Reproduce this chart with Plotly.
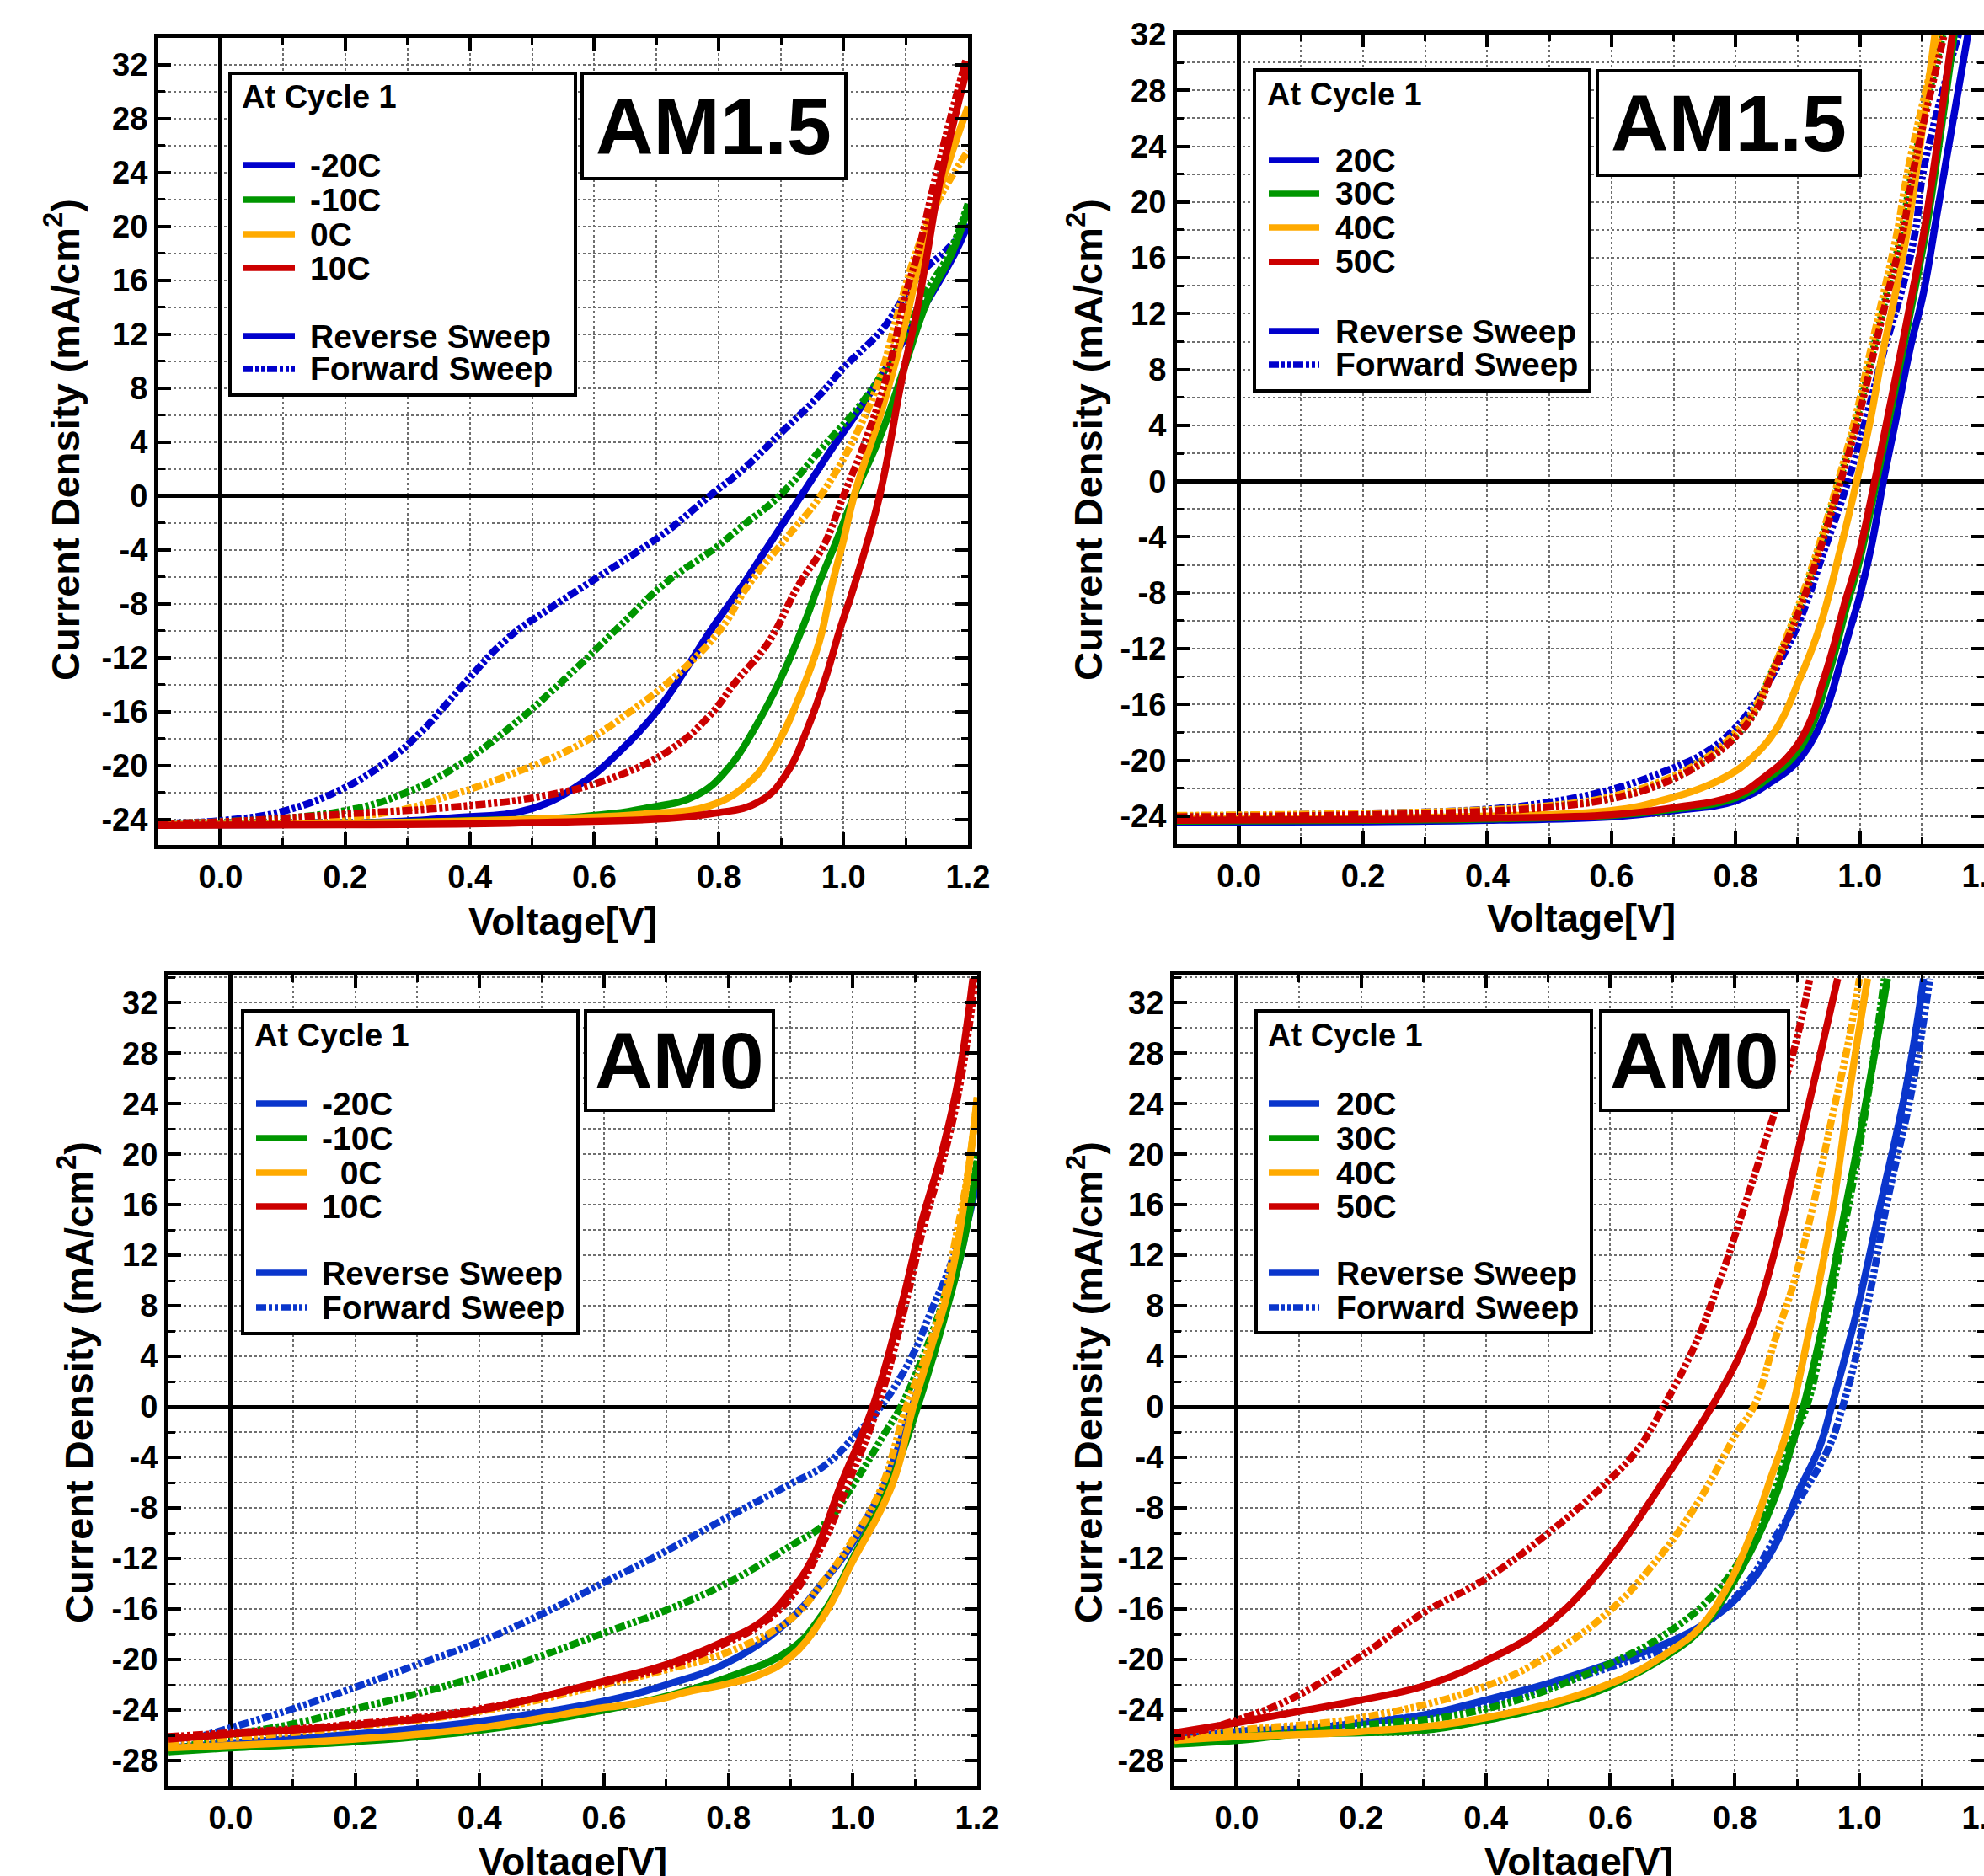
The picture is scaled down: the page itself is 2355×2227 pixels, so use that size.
import plotly.graph_objects as go

W, H = 2355, 2227

# ---------------- labels / categories ----------------
temps_low = ["-20C", "-10C", "0C", "10C"]
temps_low_am0 = ["-20C", "-10C", "\u00a0\u00a00C", "10C"]
temps_high = ["20C", "30C", "40C", "50C"]
sweep_labels = ["Reverse Sweep", "Forward Sweep"]
panel_titles = ["AM1.5", "AM1.5", "AM0", "AM0"]
legend_title = "At Cycle 1"
x_title = "Voltage[V]"
y_title = "Current Density (mA/cm<sup>2</sup>)"
x_tick_vals = [0.0, 0.2, 0.4, 0.6, 0.8, 1.0, 1.2]
x_tick_text = ["0.0", "0.2", "0.4", "0.6", "0.8", "1.0", "1.2"]
y_tick_vals_am15 = [-24, -20, -16, -12, -8, -4, 0, 4, 8, 12, 16, 20, 24, 28, 32]
y_tick_text_am15 = ["-24", "-20", "-16", "-12", "-8", "-4", "0", "4", "8", "12", "16", "20", "24", "28", "32"]
y_tick_vals_am0 = [-28, -24, -20, -16, -12, -8, -4, 0, 4, 8, 12, 16, 20, 24, 28, 32]
y_tick_text_am0 = ["-28", "-24", "-20", "-16", "-12", "-8", "-4", "0", "4", "8", "12", "16", "20", "24", "28", "32"]

# ---------------- top-left: AM1.5, -20C..10C ----------------
tl_blue_rev_v = [-0.1, 0.0, 0.2, 0.37, 0.5, 0.58, 0.64, 0.70, 0.745, 0.785, 0.837, 0.878, 0.932, 0.98, 1.031, 1.081, 1.117, 1.18, 1.2]
tl_blue_rev_j = [-24.4, -24.4, -24.3, -23.9, -23.2, -21.3, -19.0, -16.0, -13.0, -10.1, -6.7, -3.8, 0.0, 3.4, 6.8, 10.4, 13.1, 18.1, 20.2]
tl_blue_fwd_v = [-0.1, 0.0, 0.1, 0.195, 0.267, 0.32, 0.39, 0.46, 0.53, 0.60, 0.67, 0.72, 0.785, 0.837, 0.9, 0.96, 1.0, 1.063, 1.099, 1.13, 1.162, 1.2]
tl_blue_fwd_j = [-24.3, -24.1, -23.4, -21.75, -19.7, -17.6, -14.0, -10.6, -8.3, -6.2, -4.1, -2.5, 0.0, 1.9, 4.7, 7.4, 9.5, 12.4, 14.9, 16.8, 18.1, 19.9]
tl_green_rev_v = [-0.1, 0.2, 0.4, 0.58, 0.68, 0.765, 0.817, 0.858, 0.899, 0.941, 0.959, 0.99, 1.017, 1.063, 1.099, 1.135, 1.175, 1.2]
tl_green_rev_j = [-24.4, -24.3, -24.1, -23.8, -23.2, -22.2, -20.1, -17.2, -13.6, -9.0, -6.7, -3.2, 0.0, 4.9, 9.7, 14.5, 18.1, 21.4]
tl_green_fwd_v = [-0.1, 0.0, 0.195, 0.288, 0.371, 0.464, 0.557, 0.64, 0.713, 0.796, 0.837, 0.897, 0.972, 1.031, 1.09, 1.13, 1.171, 1.2]
tl_green_fwd_j = [-24.3, -24.2, -23.4, -22.2, -20.3, -17.2, -13.4, -9.7, -6.5, -3.8, -2.25, 0.0, 3.9, 7.0, 11.2, 14.9, 18.1, 21.7]
tl_orange_rev_v = [-0.1, 0.2, 0.5, 0.682, 0.785, 0.848, 0.889, 0.931, 0.962, 0.981, 1.0, 1.017, 1.063, 1.094, 1.126, 1.153, 1.2]
tl_orange_rev_j = [-24.4, -24.3, -24.0, -23.6, -23.0, -21.3, -18.8, -14.7, -10.7, -6.7, -3.3, 0.0, 6.6, 11.8, 18.1, 22.5, 28.9]
tl_orange_fwd_v = [-0.1, 0.0, 0.267, 0.371, 0.475, 0.578, 0.661, 0.744, 0.806, 0.846, 0.905, 0.963, 1.026, 1.06, 1.09, 1.12, 1.153, 1.2]
tl_orange_fwd_j = [-24.3, -24.2, -23.5, -22.2, -20.5, -18.4, -15.9, -12.8, -9.7, -6.7, -3.3, 0.0, 5.1, 9.0, 14.0, 18.5, 22.0, 25.6]
tl_red_rev_v = [-0.1, 0.2, 0.5, 0.785, 0.868, 0.91, 0.941, 0.972, 0.993, 1.017, 1.058, 1.094, 1.117, 1.135, 1.153, 1.2]
tl_red_rev_j = [-24.45, -24.4, -24.25, -23.6, -22.6, -20.5, -17.4, -13.4, -10.1, -6.7, 0.0, 8.7, 13.5, 18.1, 22.9, 32.0]
tl_red_fwd_v = [-0.1, 0.0, 0.2, 0.371, 0.526, 0.63, 0.723, 0.785, 0.827, 0.879, 0.927, 0.967, 1.0, 1.04, 1.072, 1.099, 1.121, 1.144, 1.171, 1.197]
tl_red_fwd_j = [-24.3, -24.2, -23.6, -23.1, -22.2, -20.9, -18.8, -16.3, -13.8, -10.9, -6.7, -3.8, 0.0, 4.7, 9.3, 14.8, 18.3, 22.9, 27.9, 32.4]

# ---------------- top-right: AM1.5, 20C..50C ----------------
tr_blue_rev_v = [-0.1, 0.2, 0.4, 0.6, 0.7, 0.8, 0.859, 0.899, 0.929, 0.949, 0.965, 0.985, 1.0, 1.018, 1.038, 1.058, 1.081, 1.103, 1.123, 1.145, 1.174]
tr_blue_rev_j = [-24.45, -24.4, -24.3, -24.05, -23.6, -22.9, -21.5, -20.1, -18.1, -16.0, -13.6, -10.5, -8.2, -4.8, 0.0, 4.4, 9.5, 13.6, 18.8, 24.5, 32.0]
tr_green_rev_v = [-0.1, 0.2, 0.4, 0.6, 0.7, 0.8, 0.852, 0.894, 0.924, 0.944, 0.962, 0.978, 1.0, 1.027, 1.047, 1.07, 1.088, 1.106, 1.122, 1.152]
tr_green_rev_j = [-24.35, -24.3, -24.2, -23.95, -23.5, -22.7, -21.3, -19.7, -17.4, -14.7, -11.9, -9.1, -5.6, 0.0, 4.4, 9.5, 13.6, 17.8, 22.4, 32.0]
tr_orange_rev_v = [-0.1, 0.2, 0.4, 0.6, 0.679, 0.779, 0.829, 0.869, 0.9, 0.935, 0.968, 0.995, 1.017, 1.035, 1.058, 1.076, 1.089, 1.121]
tr_orange_rev_j = [-24.2, -24.15, -24.0, -23.6, -22.9, -21.3, -19.7, -17.5, -14.5, -10.5, -5.0, 0.0, 4.4, 8.8, 13.6, 17.8, 21.5, 32.0]
tr_red_rev_v = [-0.1, 0.2, 0.4, 0.6, 0.7, 0.8, 0.849, 0.889, 0.919, 0.939, 0.958, 0.974, 0.997, 1.024, 1.044, 1.067, 1.085, 1.103, 1.119, 1.149]
tr_red_rev_j = [-24.3, -24.25, -24.15, -23.9, -23.4, -22.5, -21.1, -19.5, -17.3, -14.6, -11.8, -9.0, -5.5, 0.0, 4.4, 9.5, 13.6, 17.8, 22.4, 32.0]
tr_blue_fwd_v = [-0.1, 0.2, 0.4, 0.5, 0.599, 0.679, 0.749, 0.799, 0.839, 0.868, 0.904, 0.94, 0.981, 1.012, 1.04, 1.067, 1.089, 1.103, 1.159]
tr_blue_fwd_j = [-24.0, -23.8, -23.5, -23.0, -22.1, -20.9, -19.5, -17.7, -15.4, -13.2, -9.9, -5.3, 0.0, 4.85, 9.5, 13.6, 17.8, 22.4, 32.0]
tr_green_fwd_v = [-0.1, 0.2, 0.4, 0.5, 0.6, 0.68, 0.75, 0.8, 0.83, 0.855, 0.895, 0.931, 0.967, 0.995, 1.022, 1.044, 1.067, 1.085, 1.134]
tr_green_fwd_j = [-24.0, -23.85, -23.6, -23.3, -22.7, -21.6, -20.0, -18.2, -16.5, -14.0, -9.9, -5.3, 0.0, 4.4, 9.5, 13.6, 17.8, 22.4, 32.0]
tr_orange_fwd_v = [-0.1, 0.2, 0.4, 0.5, 0.6, 0.68, 0.75, 0.8, 0.83, 0.855, 0.893, 0.929, 0.965, 0.992, 1.018, 1.039, 1.06, 1.078, 1.128]
tr_orange_fwd_j = [-23.95, -23.8, -23.55, -23.25, -22.6, -21.5, -19.9, -18.0, -16.3, -14.0, -9.9, -5.3, 0.0, 4.4, 9.5, 13.6, 17.8, 22.4, 32.0]
tr_red_fwd_v = [-0.1, 0.2, 0.4, 0.5, 0.6, 0.68, 0.75, 0.8, 0.832, 0.857, 0.897, 0.933, 0.969, 0.997, 1.024, 1.046, 1.069, 1.087, 1.136]
tr_red_fwd_j = [-24.05, -23.9, -23.65, -23.35, -22.75, -21.7, -20.1, -18.3, -16.5, -14.0, -9.9, -5.3, 0.0, 4.4, 9.5, 13.6, 17.8, 22.4, 32.0]

# ---------------- bottom-left: AM0, -20C..10C ----------------
bl_blue_rev_v = [-0.1, 0.0, 0.2, 0.4, 0.6, 0.7, 0.8, 0.9, 0.95, 0.99, 1.02, 1.05, 1.095, 1.135, 1.167, 1.185, 1.2]
bl_blue_rev_j = [-27.0, -26.6, -25.9, -24.9, -23.3, -22.0, -20.2, -16.8, -14.0, -11.5, -9.0, -6.2, 0.0, 5.8, 10.7, 14.7, 17.8]
bl_blue_fwd_v = [-0.1, 0.0, 0.1, 0.2, 0.3, 0.4, 0.5, 0.6, 0.7, 0.8, 0.9, 0.956, 1.005, 1.045, 1.095, 1.126, 1.153, 1.18, 1.2]
bl_blue_fwd_j = [-26.8, -25.4, -23.9, -22.2, -20.4, -18.6, -16.4, -13.9, -11.4, -8.7, -6.1, -4.6, -2.2, 0.0, 4.0, 7.6, 10.7, 14.7, 17.8]
bl_green_rev_v = [-0.1, 0.0, 0.2, 0.4, 0.6, 0.7, 0.8, 0.9, 0.95, 1.0, 1.059, 1.104, 1.144, 1.171, 1.188, 1.2]
bl_green_rev_j = [-27.3, -27.0, -26.5, -25.6, -24.0, -22.9, -21.4, -19.2, -16.5, -12.0, -6.2, 0.0, 6.5, 11.5, 15.5, 19.5]
bl_green_fwd_v = [-0.1, 0.0, 0.1, 0.2, 0.3, 0.4, 0.5, 0.6, 0.7, 0.8, 0.9, 0.956, 1.0, 1.05, 1.077, 1.113, 1.14, 1.167, 1.2]
bl_green_fwd_j = [-27.3, -26.0, -25.1, -23.9, -22.7, -21.3, -19.7, -17.9, -16.1, -13.9, -11.0, -9.2, -6.2, -2.2, 0.0, 4.0, 7.6, 12.0, 20.0]
bl_orange_rev_v = [-0.1, 0.0, 0.2, 0.4, 0.6, 0.62, 0.7, 0.73, 0.8, 0.85, 0.9, 0.95, 1.0, 1.063, 1.097, 1.126, 1.149, 1.167, 1.184, 1.2]
bl_orange_rev_j = [-27.0, -26.8, -26.3, -25.4, -23.8, -23.7, -23.0, -22.6, -21.9, -21.2, -19.8, -16.8, -12.2, -6.2, 0.0, 4.7, 8.4, 12.5, 18.0, 24.5]
bl_orange_fwd_v = [-0.1, 0.0, 0.2, 0.4, 0.6, 0.7, 0.8, 0.9, 0.95, 1.0, 1.045, 1.086, 1.122, 1.149, 1.164, 1.185, 1.2]
bl_orange_fwd_j = [-26.6, -26.2, -25.3, -24.1, -22.0, -20.8, -19.4, -16.8, -14.0, -10.5, -6.5, 0.0, 4.7, 9.1, 13.0, 18.5, 24.5]
bl_red_rev_v = [-0.1, 0.0, 0.2, 0.4, 0.6, 0.7, 0.8, 0.853, 0.9, 0.936, 0.982, 1.032, 1.078, 1.11, 1.145, 1.17, 1.193]
bl_red_rev_j = [-26.3, -25.9, -25.2, -24.0, -21.7, -20.4, -18.4, -17.0, -14.6, -11.9, -6.0, 0.0, 8.0, 14.5, 20.5, 26.0, 33.9]
bl_red_fwd_v = [-0.1, 0.0, 0.2, 0.4, 0.6, 0.7, 0.8, 0.85, 0.9, 0.95, 0.993, 1.04, 1.084, 1.115, 1.15, 1.174, 1.197]
bl_red_fwd_j = [-26.1, -25.8, -25.1, -23.9, -21.8, -20.6, -18.6, -17.3, -15.1, -11.0, -6.0, 0.0, 8.0, 14.5, 20.5, 26.0, 33.9]

# ---------------- bottom-right: AM0, 20C..50C ----------------
br_blue_rev_v = [-0.1, 0.0, 0.1, 0.2, 0.3, 0.4, 0.5, 0.6, 0.7, 0.765, 0.815, 0.865, 0.905, 0.935, 0.955, 0.995, 1.035, 1.075, 1.103]
br_blue_rev_j = [-26.4, -25.7, -25.5, -25.0, -24.4, -23.2, -21.9, -20.3, -18.5, -16.7, -14.5, -10.9, -6.4, -3.3, 0.0, 7.4, 16.3, 25.3, 33.9]
br_blue_fwd_v = [-0.1, 0.0, 0.2, 0.4, 0.6, 0.7, 0.775, 0.825, 0.865, 0.915, 0.95, 0.973, 1.01, 1.045, 1.085, 1.113]
br_blue_fwd_j = [-26.5, -25.7, -25.0, -23.5, -20.6, -18.8, -16.3, -13.6, -10.3, -6.4, -3.3, 0.0, 7.4, 16.3, 25.3, 33.9]
br_green_rev_v = [-0.1, 0.0, 0.1, 0.2, 0.3, 0.4, 0.5, 0.6, 0.7, 0.745, 0.785, 0.835, 0.865, 0.89, 0.91, 0.945, 0.975, 1.01, 1.045]
br_green_rev_j = [-26.7, -26.4, -25.9, -25.8, -25.6, -24.8, -23.7, -22.1, -19.4, -17.6, -14.9, -10.5, -7.1, -3.3, 0.0, 7.4, 15.1, 24.0, 33.9]
br_green_fwd_v = [-0.1, 0.0, 0.2, 0.4, 0.6, 0.7, 0.765, 0.815, 0.855, 0.89, 0.915, 0.945, 0.975, 1.01, 1.04]
br_green_fwd_j = [-26.5, -25.8, -25.2, -23.9, -20.3, -17.6, -14.9, -11.6, -7.8, -2.8, 0.0, 6.5, 14.0, 23.5, 33.9]
br_orange_rev_v = [-0.1, 0.0, 0.2, 0.4, 0.6, 0.7, 0.745, 0.785, 0.825, 0.86, 0.88, 0.893, 0.925, 0.955, 0.985, 1.013]
br_orange_rev_j = [-26.4, -26.1, -25.7, -24.6, -21.9, -19.2, -17.4, -14.5, -10.2, -5.3, -2.5, 0.0, 7.4, 15.1, 25.3, 33.9]
br_orange_fwd_v = [-0.1, 0.0, 0.2, 0.4, 0.5, 0.6, 0.665, 0.735, 0.805, 0.83, 0.865, 0.895, 0.925, 0.955, 0.98, 1.0]
br_orange_fwd_j = [-26.2, -25.6, -24.6, -22.1, -19.7, -16.1, -12.7, -8.0, -1.9, 0.0, 5.4, 9.9, 15.8, 22.7, 28.3, 33.9]
br_red_rev_v = [-0.1, 0.0, 0.1, 0.2, 0.3, 0.4, 0.5, 0.6, 0.665, 0.705, 0.735, 0.765, 0.805, 0.835, 0.865, 0.895, 0.925, 0.965]
br_red_rev_j = [-25.8, -25.0, -24.1, -23.2, -22.1, -20.1, -17.2, -12.0, -7.4, -4.4, -2.2, 0.2, 3.8, 7.4, 12.5, 18.9, 25.3, 33.9]
br_red_fwd_v = [-0.1, 0.0, 0.1, 0.2, 0.3, 0.4, 0.5, 0.6, 0.645, 0.685, 0.735, 0.775, 0.805, 0.835, 0.865, 0.895, 0.92]
br_red_fwd_j = [-26.2, -24.8, -22.8, -19.7, -16.3, -13.6, -10.0, -5.7, -3.3, 0.0, 4.8, 9.9, 14.3, 18.9, 23.5, 28.3, 33.8]

# ---------------- styling ----------------
BLUE_TOP = "#0000CC"
BLUE_BOT = "#0A36CC"
GREEN = "#009600"
ORANGE = "#FFAA00"
RED = "#CC0000"
FWD_DASH = "12px,3px,4px,3px,4px,3px"
LW = 8.5
LEG_LW = 7.5
SMOOTH = 1.2
FONT = "Liberation Sans, Arial, Helvetica, sans-serif"


def fx(px):
    return px / W


def fy(py):
    return 1 - py / H


panels = [
    dict(xa="x", ya="y", xdom=(188, 1149), ydom=(45, 1003), yr=[-25.9, 34.0],
         ytv=y_tick_vals_am15, ytt=y_tick_text_am15, blue=BLUE_TOP, labels=temps_low,
         curves=[(tl_blue_rev_v, tl_blue_rev_j, tl_blue_fwd_v, tl_blue_fwd_j),
                 (tl_green_rev_v, tl_green_rev_j, tl_green_fwd_v, tl_green_fwd_j),
                 (tl_orange_rev_v, tl_orange_rev_j, tl_orange_fwd_v, tl_orange_fwd_j),
                 (tl_red_rev_v, tl_red_rev_j, tl_red_fwd_v, tl_red_fwd_j)],
         box=(273, 87, 683, 469), title_xy=(285, 115), ent=[196, 237, 278, 318, 399, 438],
         samp=(288, 350), tx=366, ambox=(691, 87, 1004, 212), amc=(847.5, 150), am=panel_titles[0],
         xt=(668, 1094), yt=(74, 522)),
    dict(xa="x2", ya="y2", xdom=(1397, 2355), ydom=(41, 1002), yr=[-26.0, 32.0],
         ytv=y_tick_vals_am15, ytt=y_tick_text_am15, blue=BLUE_TOP, labels=temps_high,
         curves=[(tr_blue_rev_v, tr_blue_rev_j, tr_blue_fwd_v, tr_blue_fwd_j),
                 (tr_green_rev_v, tr_green_rev_j, tr_green_fwd_v, tr_green_fwd_j),
                 (tr_orange_rev_v, tr_orange_rev_j, tr_orange_fwd_v, tr_orange_fwd_j),
                 (tr_red_rev_v, tr_red_rev_j, tr_red_fwd_v, tr_red_fwd_j)],
         box=(1489, 83, 1887, 464), title_xy=(1502, 112), ent=[190, 230, 270, 311, 393, 433],
         samp=(1506, 1566), tx=1583, ambox=(1896, 84, 2208, 208), amc=(2052, 146), am=panel_titles[1],
         xt=(1877, 1090), yt=(1288, 522)),
    dict(xa="x3", ya="y3", xdom=(200, 1160), ydom=(1158, 2120), yr=[-30.0, 34.15],
         ytv=y_tick_vals_am0, ytt=y_tick_text_am0, blue=BLUE_BOT, labels=temps_low_am0,
         curves=[(bl_blue_rev_v, bl_blue_rev_j, bl_blue_fwd_v, bl_blue_fwd_j),
                 (bl_green_rev_v, bl_green_rev_j, bl_green_fwd_v, bl_green_fwd_j),
                 (bl_orange_rev_v, bl_orange_rev_j, bl_orange_fwd_v, bl_orange_fwd_j),
                 (bl_red_rev_v, bl_red_rev_j, bl_red_fwd_v, bl_red_fwd_j)],
         box=(288, 1200, 686, 1583), title_xy=(300, 1229), ent=[1310, 1351, 1392, 1432, 1511, 1552],
         samp=(304, 364), tx=380, ambox=(695, 1200, 918, 1318), amc=(806.5, 1259), am=panel_titles[2],
         xt=(680, 2210), yt=(90, 1641)),
    dict(xa="x4", ya="y4", xdom=(1394, 2355), ydom=(1158, 2120), yr=[-30.0, 34.15],
         ytv=y_tick_vals_am0, ytt=y_tick_text_am0, blue=BLUE_BOT, labels=temps_high,
         curves=[(br_blue_rev_v, br_blue_rev_j, br_blue_fwd_v, br_blue_fwd_j),
                 (br_green_rev_v, br_green_rev_j, br_green_fwd_v, br_green_fwd_j),
                 (br_orange_rev_v, br_orange_rev_j, br_orange_fwd_v, br_orange_fwd_j),
                 (br_red_rev_v, br_red_rev_j, br_red_fwd_v, br_red_fwd_j)],
         box=(1491, 1200, 1889, 1582), title_xy=(1503, 1229), ent=[1310, 1351, 1392, 1432, 1511, 1552],
         samp=(1506, 1566), tx=1584, ambox=(1900, 1200, 2123, 1318), amc=(2011.5, 1259), am=panel_titles[3],
         xt=(1874, 2210), yt=(1288, 1641)),
]

fig = go.Figure()
layout_axes = {}
shapes = []
annotations = []

for i, p in enumerate(panels):
    colors = [p["blue"], GREEN, ORANGE, RED]
    for c, (rv, rj, fv, fj) in zip(colors, p["curves"]):
        fig.add_trace(go.Scatter(x=rv, y=rj, mode="lines", xaxis=p["xa"], yaxis=p["ya"],
                                 line=dict(color=c, width=LW, shape="spline", smoothing=SMOOTH),
                                 showlegend=False, hoverinfo="skip"))
        fig.add_trace(go.Scatter(x=fv, y=fj, mode="lines", xaxis=p["xa"], yaxis=p["ya"],
                                 line=dict(color=c, width=LW, dash=FWD_DASH, shape="spline", smoothing=SMOOTH),
                                 showlegend=False, hoverinfo="skip"))

    suffix = "" if i == 0 else str(i + 1)
    grid = dict(showgrid=True, gridcolor="#6e6e6e", griddash="dot", gridwidth=1.5)
    common = dict(showline=True, linecolor="black", linewidth=5, mirror="allticks",
                  ticks="inside", ticklen=15, tickwidth=4, tickcolor="black",
                  zeroline=True, zerolinecolor="black", zerolinewidth=4.5,
                  automargin=False,
                  tickfont=dict(family=FONT, size=38, color="black", weight="bold"),
                  tickmode="array", **grid)
    layout_axes["xaxis" + suffix] = dict(
        common, domain=[fx(p["xdom"][0]), fx(p["xdom"][1])], range=[-0.1, 1.2],
        anchor=p["ya"], tickvals=x_tick_vals, ticktext=x_tick_text,
        ticklabelstandoff=0, ticklabeloverflow="allow",
        minor=dict(tickmode="linear", tick0=0, dtick=0.1, ticks="inside", ticklen=8,
                   tickwidth=3, tickcolor="black", **grid))
    layout_axes["yaxis" + suffix] = dict(
        common, domain=[fy(p["ydom"][1]), fy(p["ydom"][0])], range=p["yr"],
        anchor=p["xa"], tickvals=p["ytv"], ticktext=p["ytt"], ticklabelstandoff=0,
        minor=dict(tickmode="linear", tick0=0, dtick=2, ticks="inside", ticklen=8,
                   tickwidth=3, tickcolor="black", **grid))

    # legend box
    b = p["box"]
    shapes.append(dict(type="rect", xref="paper", yref="paper", x0=fx(b[0]), x1=fx(b[2]),
                       y0=fy(b[3]), y1=fy(b[1]), line=dict(color="black", width=4), fillcolor="white"))
    annotations.append(dict(x=fx(p["title_xy"][0]), y=fy(p["title_xy"][1]), xref="paper", yref="paper",
                            text="<b>" + legend_title + "</b>", showarrow=False, xanchor="left",
                            yanchor="middle", font=dict(family=FONT, size=38, color="black")))
    entry_labels = p["labels"] + sweep_labels
    entry_colors = colors + [p["blue"], p["blue"]]
    entry_dash = ["solid"] * 5 + [FWD_DASH]
    for k in range(6):
        yy = fy(p["ent"][k])
        shapes.append(dict(type="line", xref="paper", yref="paper", x0=fx(p["samp"][0]), x1=fx(p["samp"][1]),
                           y0=yy, y1=yy, line=dict(color=entry_colors[k], width=LEG_LW, dash=entry_dash[k])))
        annotations.append(dict(x=fx(p["tx"]), y=yy, xref="paper", yref="paper",
                                text="<b>" + entry_labels[k] + "</b>", showarrow=False, xanchor="left",
                                yanchor="middle", font=dict(family=FONT, size=39, color="black")))
    # AM label box
    a = p["ambox"]
    shapes.append(dict(type="rect", xref="paper", yref="paper", x0=fx(a[0]), x1=fx(a[2]),
                       y0=fy(a[3]), y1=fy(a[1]), line=dict(color="black", width=4), fillcolor="white"))
    annotations.append(dict(x=fx(p["amc"][0]), y=fy(p["amc"][1]), xref="paper", yref="paper",
                            text="<b>" + p["am"] + "</b>", showarrow=False, xanchor="center",
                            yanchor="middle", font=dict(family=FONT, size=95, color="black")))
    # axis titles
    annotations.append(dict(x=fx(p["xt"][0]), y=fy(p["xt"][1]), xref="paper", yref="paper",
                            text="<b>" + x_title + "</b>", showarrow=False, xanchor="center",
                            yanchor="middle", font=dict(family=FONT, size=46, color="black")))
    annotations.append(dict(x=fx(p["yt"][0]), y=fy(p["yt"][1]), xref="paper", yref="paper",
                            text="<b>" + y_title + "</b>", showarrow=False, xanchor="center",
                            yanchor="middle", textangle=-90,
                            font=dict(family=FONT, size=47, color="black")))

fig.update_layout(
    template="none",
    width=W, height=H, margin=dict(l=0, r=0, t=0, b=0, pad=0, autoexpand=False),
    paper_bgcolor="white", plot_bgcolor="white", showlegend=False,
    shapes=shapes, annotations=annotations, **layout_axes)

fig.write_html("out.html")
